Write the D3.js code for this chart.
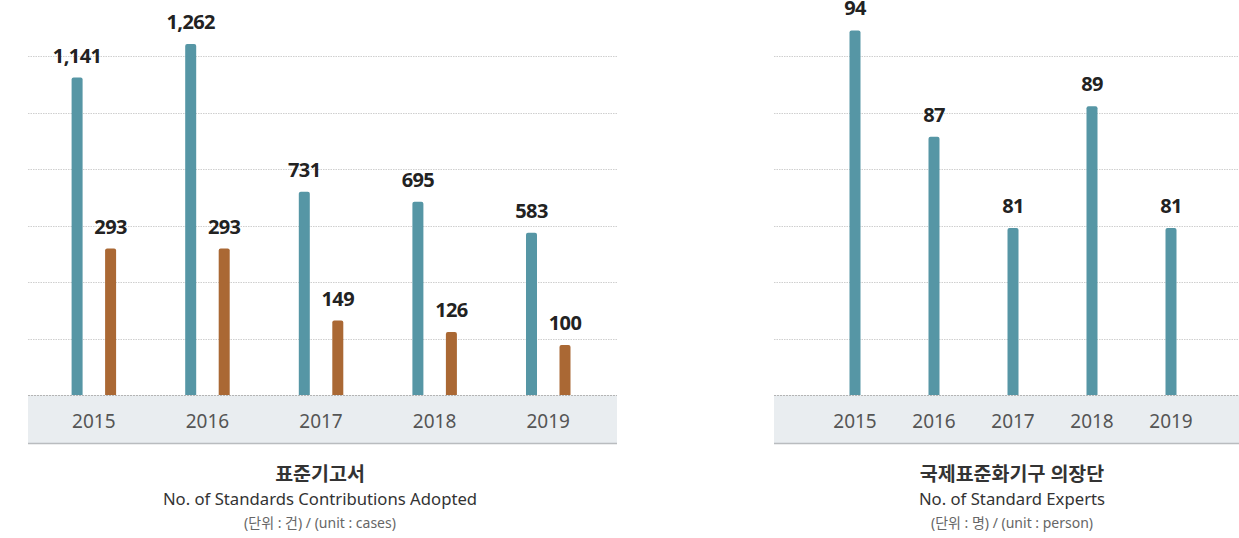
<!DOCTYPE html>
<html>
<head>
<meta charset="utf-8">
<script src="https://cdn.jsdelivr.net/npm/d3@7"></script>
<style>
  html, body { margin: 0; padding: 0; background: #fff; }
  svg { display: block; }
  text { font-family: "Noto Sans", "Noto Sans CJK KR", sans-serif; }
</style>
</head>
<body>
<svg id="chart" width="1239" height="538"></svg>
<script>
// ---- Data ----
const years = ["2015", "2016", "2017", "2018", "2019"];
const contributions = [1141, 1262, 731, 695, 583];   // teal series (left)
const adopted = [293, 293, 149, 126, 100];           // orange series (left)
const experts = [94, 87, 81, 89, 81];                // teal series (right)

const leftTitle = "표준기고서";
const leftSubtitle = "No. of Standards Contributions Adopted";
const leftUnit = "(단위 : 건) / (unit : cases)";
const rightTitle = "국제표준화기구 의장단";
const rightSubtitle = "No. of Standard Experts";
const rightUnit = "(단위 : 명) / (unit : person)";

// ---- Style ----
const TEAL = "#5696a5";
const ORANGE = "#aa6834";
const BASE = 395, TOP = 0, BAND_H = 48;
const GRID_COUNT = 7;

const svg = d3.select("#chart");
const fmt = d3.format(",");

function panel(opts) {
  const g = svg.append("g");
  const [x0, x1] = opts.extent;
  // gridlines
  const gy = d3.scaleLinear().domain([0, GRID_COUNT]).range([BASE, TOP]);
  d3.range(1, GRID_COUNT).forEach(i => {
    g.append("line")
      .attr("x1", x0).attr("x2", x1)
      .attr("y1", Math.round(gy(i)) + 0.5).attr("y2", Math.round(gy(i)) + 0.5)
      .attr("stroke", "#cfcfcf").attr("stroke-width", 1)
      .attr("stroke-dasharray", "1.5,1");
  });
  const x = d3.scaleBand().domain(years).range(opts.bandRange).padding(0);

  opts.series.forEach(s => {
    const y = d3.scaleLinear().domain(s.domain).range([BASE, TOP]);
    g.selectAll(null).data(s.values).enter().append("rect")
      .attr("x", (d, i) => x(years[i]) + x.bandwidth() / 2 + s.offset - s.width / 2)
      .attr("y", d => y(d))
      .attr("width", s.width)
      .attr("height", d => BASE - y(d) + 4)
      .attr("rx", 2).attr("ry", 2)
      .attr("fill", s.color);
    g.selectAll(null).data(s.values).enter().append("text")
      .attr("x", (d, i) => x(years[i]) + x.bandwidth() / 2 + s.offset)
      .attr("y", d => y(d) - 15)
      .attr("text-anchor", "middle")
      .attr("font-size", 20).attr("font-weight", 700)
      .attr("letter-spacing", "-0.6px")
      .attr("fill", "#222")
      .text(d => fmt(d));
  });

  // band
  g.append("rect").attr("x", x0).attr("y", BASE).attr("width", x1 - x0).attr("height", BAND_H)
    .attr("fill", "#e9edf0");
  g.append("line").attr("x1", x0).attr("x2", x1).attr("y1", BASE + 0.5).attr("y2", BASE + 0.5)
    .attr("stroke", "#b4b4b4").attr("stroke-width", 1).attr("stroke-dasharray", "2,1");
  g.append("line").attr("x1", x0).attr("x2", x1).attr("y1", BASE + BAND_H + 0.5).attr("y2", BASE + BAND_H + 0.5)
    .attr("stroke", "#b9bcbf").attr("stroke-width", 1.5);

  const axis = d3.axisBottom(x).tickSize(0).tickPadding(0);
  const ax = g.append("g").attr("transform", `translate(0,${BASE})`).call(axis);
  ax.select(".domain").remove();
  ax.selectAll("text")
    .attr("dy", null).attr("y", 33)
    .attr("font-size", 19).attr("fill", "#555")
    .style("font-family", '"Noto Sans", sans-serif');

  const cx = opts.titleX;
  g.append("text").attr("x", cx).attr("y", 481).attr("text-anchor", "middle")
    .attr("font-size", 19.5).attr("font-weight", 700).attr("fill", "#333").text(opts.title);
  g.append("text").attr("x", cx).attr("y", 505).attr("text-anchor", "middle")
    .attr("font-size", 16.7).attr("fill", "#333").text(opts.subtitle);
  g.append("text").attr("x", cx).attr("y", 528).attr("text-anchor", "middle")
    .attr("font-size", 14).attr("fill", "#666").text(opts.unit);
}

panel({
  extent: [28, 617],
  bandRange: [37, 605],
  titleX: 320,
  title: leftTitle, subtitle: leftSubtitle, unit: leftUnit,
  series: [
    { values: contributions, domain: [0, 1420], color: TEAL, offset: -16.7, width: 11 },
    { values: adopted, domain: [0, 790], color: ORANGE, offset: 16.8, width: 11 }
  ]
});

panel({
  extent: [774, 1239],
  bandRange: [815.5, 1210.5],
  titleX: 1012,
  title: rightTitle, subtitle: rightSubtitle, unit: rightUnit,
  series: [
    { values: experts, domain: [70, 96], color: TEAL, offset: 0, width: 11 }
  ]
});
</script>
</body>
</html>
